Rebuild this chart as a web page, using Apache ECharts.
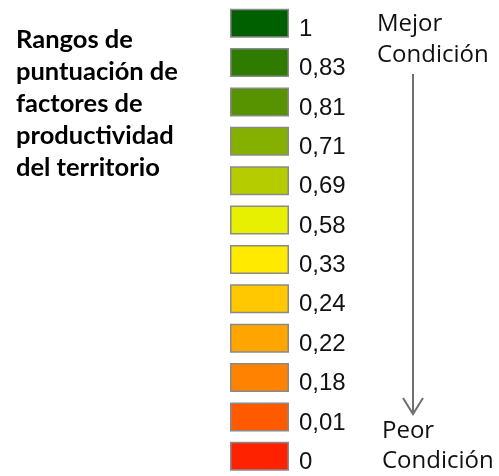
<!DOCTYPE html>
<html>
<head>
<meta charset="utf-8">
<script src="https://cdn.jsdelivr.net/npm/echarts@6/dist/echarts.min.js"></script>
<style>
html,body{margin:0;padding:0;background:#fff;}
#chart{width:499px;height:476px;}
</style>
</head>
<body>
<div id="chart"></div>
<script>
// Legend classes (top = best condition)
const categories = ["1", "0,83", "0,81", "0,71", "0,69", "0,58", "0,33", "0,24", "0,22", "0,18", "0,01", "0"];
const swatchColors = ["#006000", "#2e7b00", "#579300", "#86b000", "#b4cc00", "#e6f000",
                      "#ffea00", "#ffc800", "#ffa500", "#ff8200", "#ff5a00", "#ff2200"];
const swatchLength = [1, 1, 1, 1, 1, 1, 1, 1, 1, 1, 1, 1];
const titleLines = ["Rangos de", "puntuación de", "factores de", "productividad", "del territorio"];
const topText = ["Mejor", "Condición"];
const bottomText = ["Peor", "Condición"];

const chart = echarts.init(document.getElementById('chart'), null, {renderer: 'canvas'});

const graphics = [];
titleLines.forEach((t, i) => {
  graphics.push({type: 'text', x: 16, y: 40 + 32 * i,
    style: {text: t, font: 'bold 25.5px Lato', fill: '#000', verticalAlign: 'middle'}});
});
topText.forEach((t, i) => {
  graphics.push({type: 'text', left: 377, top: 12 + 31.5 * i,
    style: {text: t, font: '24px "Open Sans"', fill: '#111'}});
});
bottomText.forEach((t, i) => {
  graphics.push({type: 'text', left: 382, top: 419 + 30 * i,
    style: {text: t, font: '24px "Open Sans"', fill: '#111'}});
});
graphics.push({type: 'line', shape: {x1: 413, y1: 74, x2: 413, y2: 413},
  style: {stroke: '#707070', lineWidth: 2}});
graphics.push({type: 'polyline', shape: {points: [[403, 398], [413, 414], [423, 398]]},
  style: {stroke: '#707070', lineWidth: 2, fill: null}});

chart.setOption({
  animation: false,
  grid: {left: 230, width: 59, top: 3.5, height: 473},
  xAxis: {type: 'value', min: 0, max: 1, show: false},
  yAxis: {type: 'category', data: categories, inverse: true, show: false},
  graphic: graphics,
  series: [{
    type: 'bar',
    barWidth: 29,
    data: swatchLength.map((v, i) => ({value: v, itemStyle: {color: swatchColors[i]}})),
    itemStyle: {borderColor: '#8a8a8a', borderWidth: 1.5},
    label: {
      show: true, position: 'right', distance: 10, offset: [0, 6],
      formatter: p => categories[p.dataIndex],
      fontFamily: '"Liberation Sans"', fontSize: 24, color: '#111'
    }
  }]
});
</script>
</body>
</html>
